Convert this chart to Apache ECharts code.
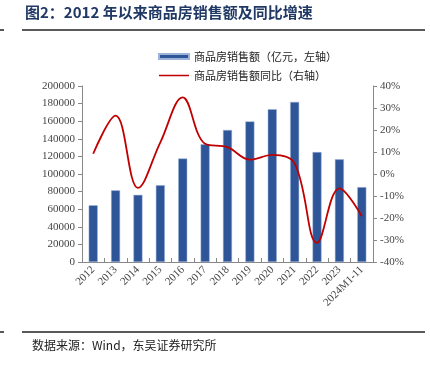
<!DOCTYPE html>
<html>
<head>
<meta charset="utf-8">
<script src="https://cdn.jsdelivr.net/npm/echarts@6/dist/echarts.min.js"></script>
<style>
  html, body { margin: 0; padding: 0; background: #fff; }
  #main { width: 430px; height: 369px; }
</style>
</head>
<body>
<div id="main"></div>
<script>
  // 年份
  var years = ['2012', '2013', '2014', '2015', '2016', '2017', '2018', '2019', '2020', '2021', '2022', '2023', '2024M1-11'];
  // 商品房销售额（亿元）
  var salesAmount = [64456, 81428, 76292, 87281, 117627, 133701, 149973, 159725, 173613, 181930, 124900, 116622, 85100];
  // 同比增速（%）
  var salesYoy = [9.2, 26.5, -6.3, 14.4, 34.8, 13.7, 12.2, 6.5, 8.7, 4.8, -31.3, -6.5, -19.2];
  var leftTicks = [0, 200000, 20000];
  var rightTicks = [-40, 40, 10];

  var serif = '"Liberation Serif", "DejaVu Serif", serif';
  var cjk = '"Noto Sans CJK SC", sans-serif';
  var myChart = echarts.init(document.getElementById('main'));
  var option = {
    animation: false,
    textStyle: {fontFamily: serif},
    graphic: [
      {type: 'text', left: 25, top: 5, style: {text: '图2：2012 年以来商品房销售额及同比增速', font: 'bold 15px ' + cjk, fill: '#1f3864'}},
      {type: 'line', shape: {x1: 22, y1: 30, x2: 425, y2: 30}, style: {stroke: '#222', lineWidth: 1.5}},
      {type: 'line', shape: {x1: 0, y1: 30, x2: 4, y2: 30}, style: {stroke: '#222', lineWidth: 1.5}},
      {type: 'line', shape: {x1: 22, y1: 332, x2: 425, y2: 332}, style: {stroke: '#222', lineWidth: 1.5}},
      {type: 'line', shape: {x1: 0, y1: 332, x2: 4, y2: 332}, style: {stroke: '#222', lineWidth: 1.5}},
      {type: 'text', left: 32, top: 339, style: {text: '数据来源：Wind，东吴证券研究所', font: '12px ' + cjk, fill: '#222'}}
    ],
    legend: {
      orient: 'vertical',
      left: 153,
      top: 46,
      itemGap: 8,
      itemWidth: 30,
      itemHeight: 5,
      textStyle: {fontFamily: cjk, fontSize: 11, color: '#222'},
      data: [
        {name: '商品房销售额（亿元，左轴）', icon: 'rect'},
        // 细线图例：上下两条极细边用于撑开高度
        {name: '商品房销售额同比（右轴）', icon: 'path://M0,0 L30,0 L30,0.05 L0,0.05 Z M0,1.7 L30,1.7 L30,3.3 L0,3.3 Z M0,4.95 L30,4.95 L30,5 L0,5 Z'}
      ]
    },
    grid: {left: 82, right: 57, top: 86, bottom: 107},
    xAxis: {
      type: 'category',
      data: years,
      axisLine: {lineStyle: {color: '#888'}},
      axisTick: {show: true, inside: true, length: 4, lineStyle: {color: '#888'}},
      axisLabel: {rotate: 45, fontSize: 11, color: '#444', fontFamily: serif, interval: 0, margin: 6}
    },
    yAxis: [
      {
        type: 'value',
        min: leftTicks[0],
        max: leftTicks[1],
        interval: leftTicks[2],
        splitLine: {show: false},
        axisLine: {show: true, lineStyle: {color: '#888'}},
        axisTick: {show: true, length: 4, lineStyle: {color: '#888'}},
        axisLabel: {fontSize: 11, color: '#444', fontFamily: serif, margin: 7, formatter: function (v) { return String(v); }}
      },
      {
        type: 'value',
        min: rightTicks[0],
        max: rightTicks[1],
        interval: rightTicks[2],
        splitLine: {show: false},
        axisLine: {show: true, lineStyle: {color: '#888'}},
        axisTick: {show: true, length: 4, lineStyle: {color: '#888'}},
        axisLabel: {fontSize: 11, color: '#444', fontFamily: serif, margin: 7, formatter: '{value}%'}
      }
    ],
    series: [
      {
        name: '商品房销售额（亿元，左轴）',
        type: 'bar',
        data: salesAmount,
        barWidth: 9,
        itemStyle: {color: '#2e5597', borderColor: '#9db3d9', borderWidth: 0.5}
      },
      {
        name: '商品房销售额同比（右轴）',
        type: 'line',
        yAxisIndex: 1,
        data: salesYoy,
        smooth: 0.38,
        showSymbol: false,
        lineStyle: {color: '#c00000', width: 1.8},
        itemStyle: {color: '#c00000'}
      }
    ]
  };
  myChart.setOption(option);
</script>
</body>
</html>
